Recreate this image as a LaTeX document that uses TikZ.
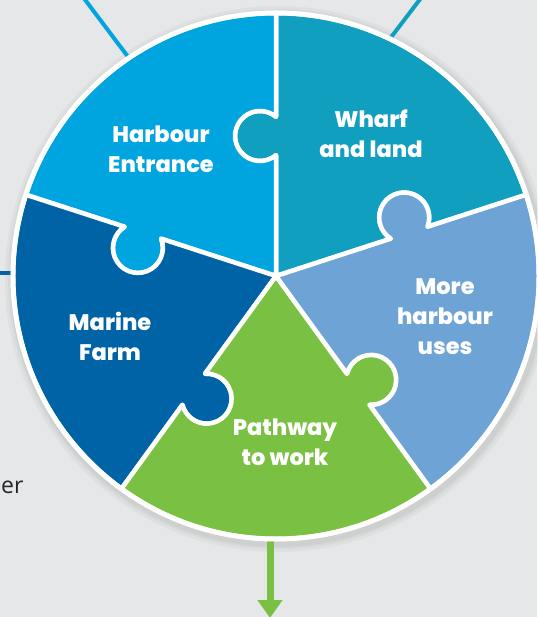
\documentclass[tikz,border=0pt]{standalone}
\usepackage{fontspec}
\newfontfamily\piecefont{Poppins}[BoldFont={Poppins ExtraBold}]
\newfontfamily\notefont{Open Sans}
\usetikzlibrary{positioning, arrows.meta}

\definecolor{pagegray}{HTML}{E6E7E8}
\definecolor{entrance}{HTML}{00A5E0}
\definecolor{wharf}{HTML}{119FC0}
\definecolor{moreuses}{HTML}{6EA3D5}
\definecolor{pathway}{HTML}{7AC143}
\definecolor{marine}{HTML}{0063A5}

% one piece from angle #1 to #1+72: notch on its first edge, tab on its second
\newcommand{\puzzlepiece}[2]{%
  \filldraw[fill=#2, draw=white, line width=4.5pt, line join=round]
    (0,0) -- (#1:120.8)
    arc[start angle=#1+219.8, end angle=#1-39.8, radius=25]
    -- (#1:263) arc[start angle=#1, end angle=#1+72, radius=263]
    -- (#1+72:159.2)
    arc[start angle=#1+32.2, end angle=#1+291.8, radius=25]
    -- cycle;}

\tikzset{piece text/.style={text=white, align=center,
  font=\piecefont\bfseries\fontsize{22.5}{30}\selectfont}}

\begin{document}
\begin{tikzpicture}[x=1pt, y=1pt]
                \useasboundingbox (-276,-341) rectangle (261,276);
                \fill[pagegray] (-276,-341) rectangle (261,276);
                % soft shadow
                \fill[black, opacity=0.03] (2,-3) circle[radius=273];
                \fill[black, opacity=0.03] (2,-3) circle[radius=270];
                \fill[black, opacity=0.04] (2,-3) circle[radius=268];
                % connectors leaving the wheel
                \coordinate (entrance rim) at (124:262);
                \coordinate (entrance end) at (-196,283);
                \coordinate (wharf rim) at (64.4:262);
                \coordinate (wharf end) at (148,282);
                \coordinate (marine rim) at (-262,3);
                \coordinate (marine end) at (-280,3);
                \coordinate (pathway rim) at (-6,-262);
                \coordinate (pathway end) at (-6,-342);
                \draw[entrance, line width=4pt] (entrance rim) -- (entrance end);
                \draw[wharf, line width=4pt] (wharf rim) -- (wharf end);
                \draw[marine, line width=4pt] (marine rim) -- (marine end);
                \draw[pathway, line width=7pt, -{Triangle[width=24pt,length=18pt]}] (pathway rim) -- (pathway end);
                % the five pieces
                \puzzlepiece{18}{wharf}
                \puzzlepiece{90}{entrance}
                \puzzlepiece{162}{marine}
                \puzzlepiece{234}{pathway}
                \puzzlepiece{306}{moreuses}
                \draw[white, line width=5pt] (0,0) circle[radius=263];
                \node[piece text] (entrance text) at (-115,127) {Harbour\\Entrance};
                \node[piece text] (wharf text) at (95,142) {Wharf\\and land};
                \node[piece text] (marine text) at (-166,-60) {Marine\\Farm};
                \node[piece text] (uses text) at (169,-41) {More\\harbour\\uses};
                \node[piece text] (pathway text) at (9,-166) {Pathway\\to work};
                \node[anchor=base west, inner sep=0pt, text=black!85, font=\notefont\fontsize{23}{28}\selectfont] (note) at (-275,-217) {er};
            \end{tikzpicture}
\end{document}
